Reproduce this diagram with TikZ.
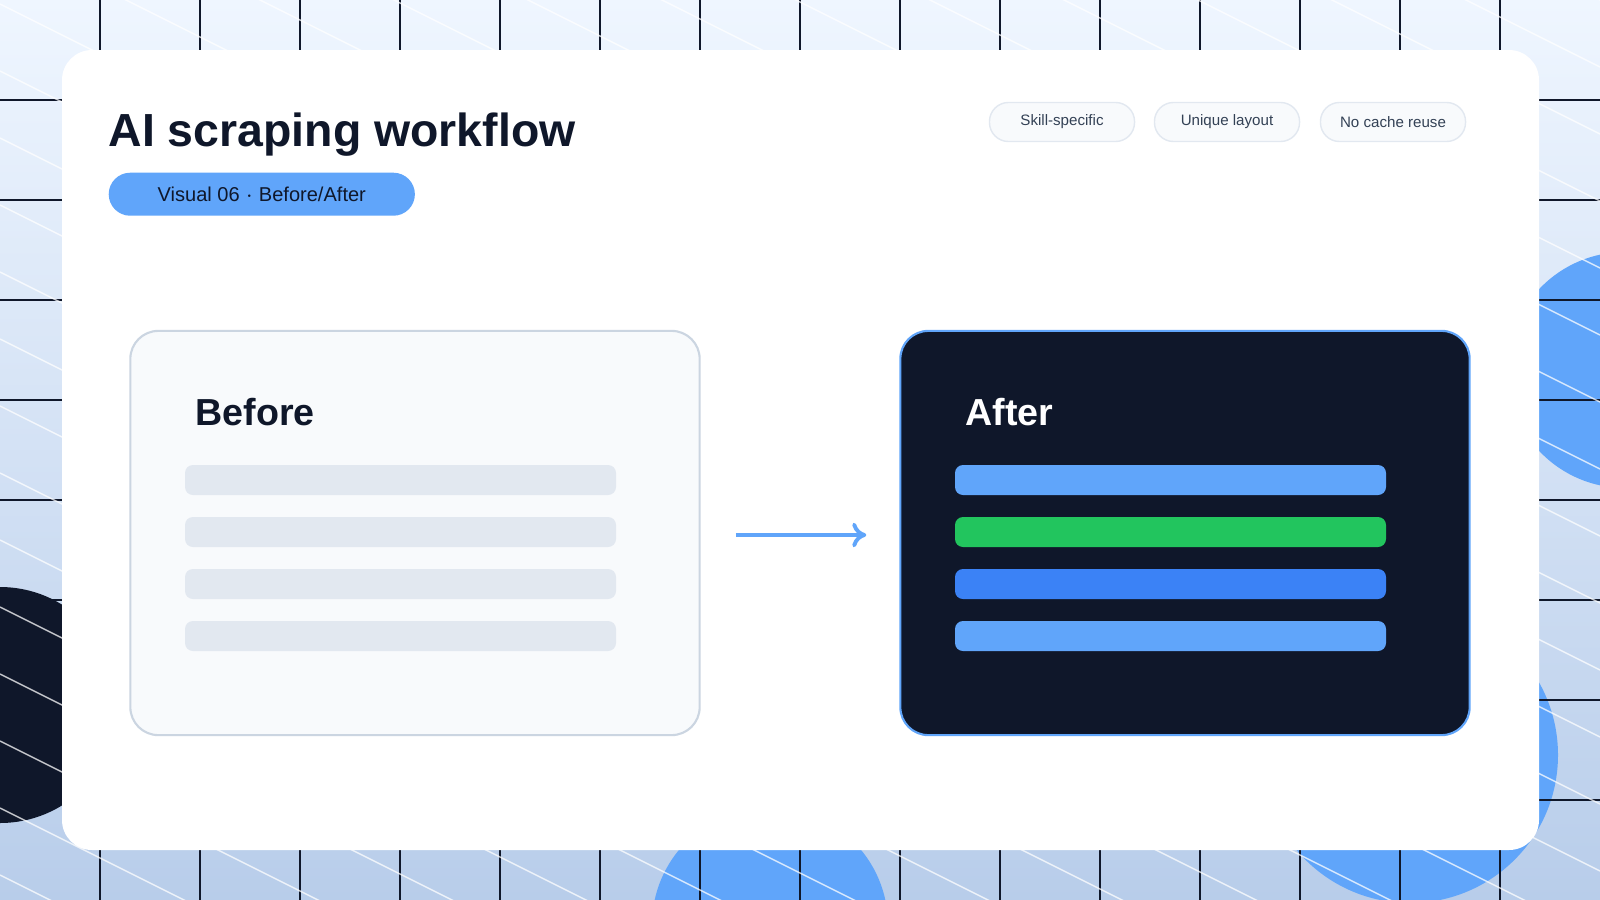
\documentclass[tikz,border=0pt]{standalone}
\usepackage{fontspec}
\setmainfont{Liberation Sans}
\usetikzlibrary{positioning,calc,arrows.meta}
\definecolor{ink}{HTML}{0F172A}
\definecolor{sky}{HTML}{60A5FA}
\definecolor{royal}{HTML}{3B82F6}
\definecolor{leaf}{HTML}{22C55E}
\definecolor{mist}{HTML}{E2E8F0}
\definecolor{paper}{HTML}{F8FAFC}
\definecolor{edge}{HTML}{CBD5E1}
\definecolor{slate}{HTML}{334155}
\definecolor{bgtop}{HTML}{EFF6FF}
\definecolor{bgbottom}{HTML}{B8CDEA}
\tikzset{
  panel/.style={rounded corners=0.28cm, minimum width=5.69cm, minimum height=4.04cm, line width=0.6pt},
  tag/.style={draw=mist, fill=paper, rounded corners=0.19cm, minimum width=1.45cm, minimum height=0.39cm,
    text=slate, font=\fontsize{4.3}{5}\selectfont},
  bar/.style={rounded corners=0.08cm},
  heading/.style={font=\fontsize{10.7}{12}\selectfont\bfseries, anchor=west},
}
\begin{document}
\begin{tikzpicture}[x=0.01cm,y=-0.01cm]
  \useasboundingbox (0,0) rectangle (1600,900);
  \begin{scope}
  \clip (0,0) rectangle (1600,900);
  \shade[top color=bgtop, bottom color=bgbottom] (0,0) rectangle (1600,900);
  %% blobs behind the card
  \fill[ink] (0,705) circle (118);
  \fill[sky] (1625,370) circle (118);
  \fill[sky] (1410,755) circle (148);
  \fill[sky] (770,925) circle (118);
  %% grid
  \foreach \x in {100,200,...,1500}{\draw[ink, line width=0.5pt] (\x,0) -- (\x,900);}
  \foreach \y in {100,200,...,800}{\draw[ink, line width=0.5pt] (0,\y) -- (1600,\y);}
  \foreach \c in {-800,-733,...,900}{\draw[white, opacity=0.75, line width=0.4pt] (0,\c) -- (1600,\c+800);}
  \end{scope}
  %% card
  \fill[white, rounded corners=0.3cm] (62,50) rectangle (1539,850);
  \node[anchor=base west, inner sep=0, text=ink, font=\fontsize{13.2}{15}\selectfont\bfseries] (title) at (108,146) {AI scraping workflow};
  \node[fill=sky, rounded corners=0.215cm, minimum width=3.06cm, minimum height=0.43cm, anchor=north west,
    text=ink, font=\fontsize{5.7}{7}\selectfont] (badge) at (108,172) {Visual 06 $\cdot$ Before/After};
  \node[tag] (skill) at (1062,122) {Skill-specific};
  \node[tag] (layout) at (1227,122) {Unique layout};
  \node[tag] (cache) at (1393,122) {No cache reuse};
  %% panels
  \node[panel, draw=edge, fill=paper] (before) at (415,533) {};
  \node[panel, draw=sky, fill=ink] (after) at (1185,533) {};
  \node[heading, text=ink] (beforelbl) at (183,412) {Before};
  \node[heading, text=white] (afterlbl) at (953,412) {After};
  \foreach \y in {480,532,584,636}{
    \fill[bar, mist] (185,\y-15) rectangle (616,\y+15);
  }
  \foreach \y/\col in {480/sky,532/leaf,584/royal,636/sky}{
    \fill[bar, \col] (955,\y-15) rectangle (1386,\y+15);
  }
  \draw[sky, line width=1.1pt, -{To[length=4pt,width=7pt]}] ([xshift=0.35cm,yshift=-0.02cm]before.east) -- ([xshift=-0.33cm,yshift=-0.02cm]after.west);
\end{tikzpicture}
\end{document}
